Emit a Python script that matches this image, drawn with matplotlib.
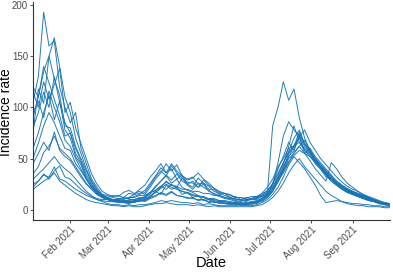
import matplotlib
matplotlib.use("Agg")
import matplotlib.pyplot as plt
import matplotlib.dates as mdates
import pandas as pd

plt.rcParams['font.family'] = ['Liberation Sans', 'DejaVu Sans']

# sampling dates: every 4 days, Jan 4 2021 .. Sep 29 2021 (68 points)
start_date = "2021-01-04"
n_points = 68
step = "4D"

# values grouped by month: Jan(7) Feb(7) Mar(8) Apr(8) May(7) Jun(8) Jul(8) Aug(7) Sep(8)
series = [
    [105,130,193,160,165,120,100, 85,95,60,45,30,22,15, 12,9,10,7,8,7,10,9,
     12,18,15,24,20,22,15,17, 12,14,9,10,7,8,6, 6,5,7,5,8,6,10,14,
     25,40,52,66,58,72,55,60, 45,40,32,30,25,22,20, 17,15,12,11,9,7,6,4],
    [90,110,135,150,168,140,110, 95,70,55,40,28,20,14, 12,10,8,9,7,9,10,12,
     16,22,28,33,26,30,22,19, 17,14,12,10,9,8,8, 7,6,6,5,7,8,11,16,
     82,100,125,107,118,90,70,58, 50,42,38,30,26,22,19, 16,15,12,10,9,7,6,5],
    [115,100,125,108,122,138,95, 105,80,65,50,35,25,18, 15,13,14,12,16,15,20,24,
     32,38,45,36,40,30,34,25, 28,22,25,18,16,14,12, 11,9,10,8,11,12,16,22,
     30,42,50,60,62,76,65,58, 50,44,38,33,28,24,21, 18,16,14,12,10,8,7,5],
    [80,95,115,100,130,105,85, 75,60,48,35,25,18,13, 10,8,9,7,8,7,9,8,
     11,13,17,15,18,14,13,11, 12,9,10,7,8,6,6, 5,6,4,5,5,7,8,12,
     18,30,40,55,62,70,58,52, 46,40,34,28,24,20,17, 15,13,11,9,8,6,5,4],
    [60,75,95,112,88,106,78, 70,52,44,30,22,16,12, 12,14,13,17,19,16,18,15,
     22,30,36,45,38,44,33,30, 32,25,26,20,20,15,16, 12,13,10,12,11,13,14,19,
     25,34,46,57,70,78,64,60, 52,46,40,34,28,24,20, 18,16,14,12,10,8,7,6],
    [50,65,82,95,85,72,60, 58,45,38,30,22,18,15, 14,12,11,12,11,13,15,17,
     24,32,38,33,43,36,31,27, 26,22,29,24,21,17,16, 15,12,12,10,11,11,14,17,
     22,32,42,52,62,66,60,55, 48,42,36,31,26,22,18, 16,14,12,10,9,8,6,5],
    [25,28,34,32,42,30,28, 24,20,17,14,12,10,9, 8,8,7,7,6,8,8,10,
     13,17,22,28,24,22,31,24, 20,26,22,19,15,13,11, 10,8,8,7,8,9,11,14,
     20,28,38,50,55,62,55,48, 40,34,28,46,40,32,26, 22,18,15,12,10,8,6,5],
    [30,35,40,46,52,45,40, 36,30,24,18,14,10,8, 6,5,5,4,5,4,5,5,
     6,7,9,8,9,8,7,7, 6,7,5,6,5,4,4, 4,4,5,4,4,5,7,10,
     15,22,32,44,52,46,40,32, 24,14,7,8,9,8,7, 6,6,5,5,4,4,3,3],
    [20,24,28,31,36,28,24, 20,16,13,10,8,7,6, 5,4,4,3,4,3,3,4,
     5,6,6,7,6,5,5,5, 4,5,4,3,4,3,3, 3,3,3,3,3,4,5,8,
     12,18,26,36,44,50,42,36, 30,24,18,14,11,8,6, 5,4,4,3,3,3,2,2],
    [45,55,66,58,76,58,52, 48,40,32,25,20,15,13, 12,10,10,9,9,10,11,13,
     17,23,28,34,29,35,28,25, 22,31,26,23,18,16,14, 12,10,10,9,10,10,13,15,
     20,28,36,46,56,62,68,58, 50,44,38,32,27,23,19, 17,15,13,11,9,8,6,5],
    [120,110,140,124,108,92,72, 75,55,46,32,24,17,13, 11,9,9,8,10,10,12,12,
     16,19,23,20,25,21,18,17, 15,13,13,11,11,9,9, 8,7,7,6,7,8,11,14,
     25,46,72,86,78,72,62,56, 48,42,36,30,25,21,18, 15,13,11,10,8,7,6,4],
    [35,42,56,62,72,60,55, 50,42,34,26,20,15,12, 10,9,10,11,12,15,16,19,
     26,33,41,36,45,38,33,29, 31,36,30,26,21,18,16, 14,12,12,11,13,13,16,18,
     26,36,46,56,63,71,78,66, 58,50,44,38,32,27,23, 20,18,15,13,11,9,7,6],
    [95,106,90,116,100,86,68, 62,50,40,30,22,16,12, 10,8,8,7,7,8,9,10,
     12,14,16,14,17,14,13,12, 11,10,10,8,8,7,7, 6,6,5,5,6,7,9,12,
     18,27,38,52,58,74,64,56, 48,42,36,30,26,22,19, 18,15,13,11,9,7,6,5],
    [22,28,35,30,38,43,32, 30,25,20,16,13,11,10, 10,9,11,10,12,12,14,14,
     17,19,23,27,24,23,20,20, 18,18,16,16,14,14,12, 11,11,9,10,10,12,13,16,
     22,31,38,47,53,58,55,52, 46,40,35,30,26,22,18, 16,14,12,10,9,7,6,5],
    [75,118,104,150,128,112,82, 80,62,50,38,27,19,14, 11,9,8,8,8,9,10,11,
     14,17,21,25,22,20,18,16, 14,13,12,10,10,9,8, 7,7,6,6,7,8,10,13,
     20,30,44,62,82,66,58,54, 46,40,34,28,24,20,17, 15,13,11,9,8,6,5,4],
]

y_ticks = [0, 50, 100, 150, 200]
x_tick_dates = ["2021-02-01", "2021-03-01", "2021-04-01", "2021-05-01",
                "2021-06-01", "2021-07-01", "2021-08-01", "2021-09-01"]

dates = pd.date_range(start_date, periods=n_points, freq=step)

fig = plt.figure(figsize=(3.93, 2.73), dpi=100)
ax = fig.add_axes([0.084, 0.194, 0.908, 0.799])

line_color = "#1874B4"
for s in series:
    ax.plot(dates, s, color=line_color, linewidth=0.7, alpha=0.95)

ax.set_xlim(dates[0], dates[-1])
ax.set_ylim(-10, 203)
ax.set_yticks(y_ticks)
ax.set_xticks(pd.to_datetime(x_tick_dates))
ax.xaxis.set_major_formatter(mdates.DateFormatter("%b %Y"))

for sp in ["top", "right"]:
    ax.spines[sp].set_visible(False)
for sp in ["left", "bottom"]:
    ax.spines[sp].set_color("#333333")
    ax.spines[sp].set_linewidth(0.8)

ax.tick_params(axis="both", colors="#333333", length=2.5, width=0.6,
               labelsize=7, labelcolor="#4D4D4D", pad=1)
for lab in ax.get_xticklabels():
    lab.set_rotation(45)
    lab.set_ha("right")
    lab.set_rotation_mode("anchor")

fig.text(211 / 393, 1 - 263 / 273, "Date", fontsize=10.5, color="black",
         ha="center", va="center")
fig.text(6.5 / 393, 1 - 112 / 273, "Incidence rate", fontsize=10,
         color="black", ha="center", va="center", rotation=90)

fig.savefig("out.png", dpi=100)
